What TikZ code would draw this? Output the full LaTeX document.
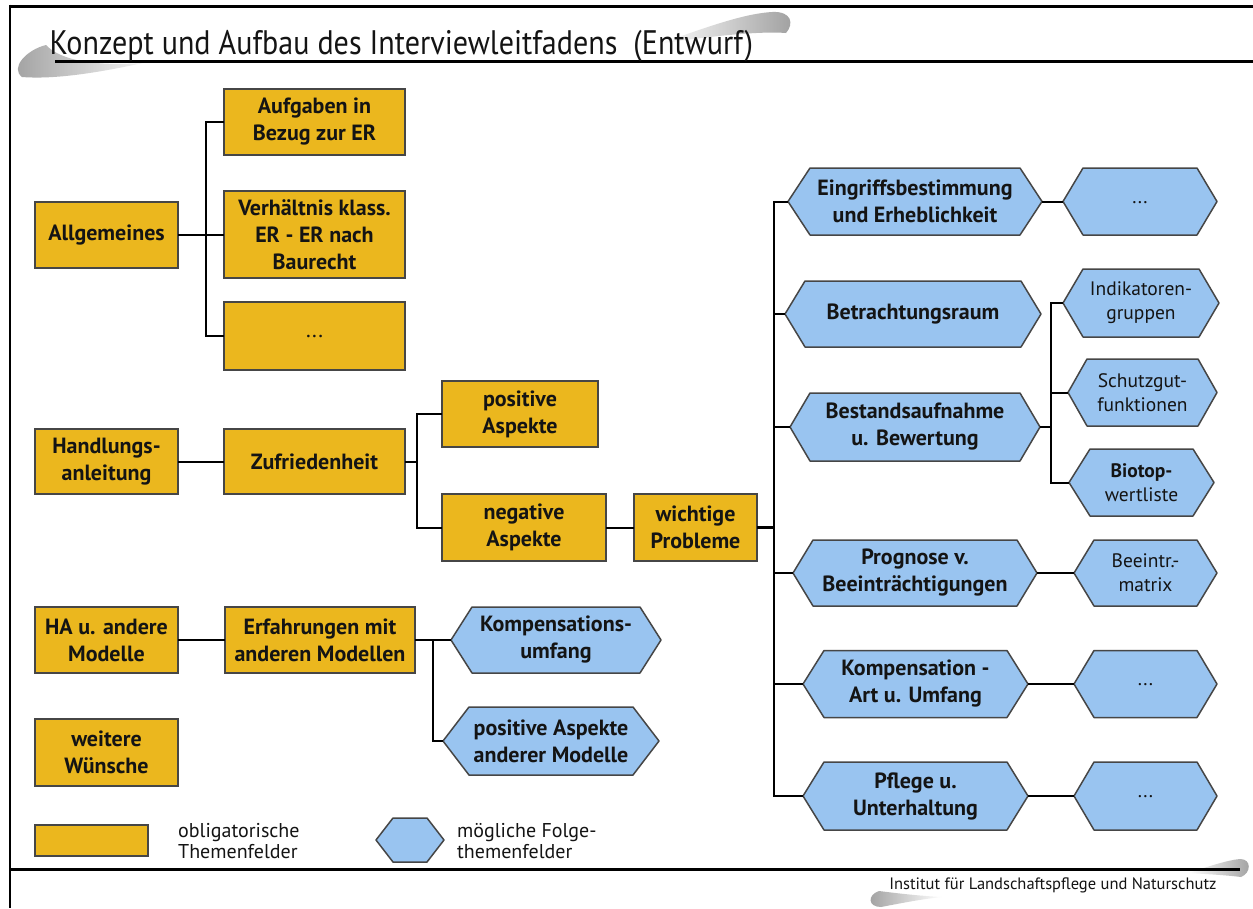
\documentclass[tikz,border=0pt]{standalone}
\usepackage{fontspec}
\setmainfont{PT Sans}
\newfontfamily\condfont[FakeStretch=0.885]{PT Sans}
\usetikzlibrary{calc}
\pgfdeclarelayer{background}
\pgfdeclarelayer{canvas}
\pgfsetlayers{canvas,background,main}
\definecolor{obl}{RGB}{235,183,30}
\definecolor{opt}{RGB}{153,196,240}
\definecolor{rim}{RGB}{70,70,70}
\definecolor{ink}{RGB}{20,20,20}

% blue hexagon drawn behind a named text node: #1 node name, #2 side inset
\newcommand\hexbody[2]{%
  \begin{pgfonlayer}{background}
    \filldraw[fill=opt, draw=rim, line width=1.5pt, line join=round]
      (#1.west) -- ([xshift=#2]#1.north west) -- ([xshift=-#2]#1.north east)
      -- (#1.east) -- ([xshift=-#2]#1.south east) -- ([xshift=#2]#1.south west) -- cycle;
  \end{pgfonlayer}}

% centred ellipsis for placeholder boxes
\newcommand\moredots{\raisebox{-4pt}{...}}

\tikzset{
  boxfont/.style={font=\fontsize{22}{27}\selectfont\bfseries},
  smallfont/.style={font=\fontsize{19.5}{24}\selectfont},
  legfont/.style={font=\fontsize{20}{21}\selectfont},
  oblbox/.style={draw=rim, line width=1.5pt, fill=obl, align=center, text=ink,
    inner sep=0pt, outer sep=0pt, boxfont},
  hexnode/.style={align=center, text=ink, inner sep=0pt, outer sep=0pt, boxfont},
  legtext/.style={anchor=north west, align=left, inner sep=0pt, text=ink, legfont},
  link/.style={line width=2pt, black},
  frameline/.style={line width=3pt, black},
}

\begin{document}
\begin{tikzpicture}[x=1pt, y=-1pt]
\useasboundingbox (0,0) rectangle (1253,908);
\begin{pgfonlayer}{canvas}
  \fill[white] (0,0) rectangle (1253,908);
\end{pgfonlayer}

% brush strokes of the slide frame
\shade[left color=white, right color=gray!75] (658,44) .. controls (700,30) and (740,14) .. (772,12)
  .. controls (792,11) and (794,24) .. (786,33) .. controls (760,31) and (710,36) .. (658,44) -- cycle;
\shade[left color=gray!75, right color=white!90!gray] (143,63) .. controls (100,66) and (62,62) .. (46,45)
  .. controls (26,50) and (10,68) .. (22,77) .. controls (60,80) and (110,70) .. (143,63) -- cycle;
\shade[left color=white, right color=gray!75] (1188,873) .. controls (1210,866) and (1228,860) .. (1240,859)
  .. controls (1252,859) and (1251,873) .. (1241,877) .. controls (1225,875) and (1205,874) .. (1188,873) -- cycle;
\shade[left color=gray!75, right color=white] (942,897) .. controls (920,896) and (895,893) .. (879,891)
  .. controls (867,895) and (868,907) .. (881,907) .. controls (902,903) and (922,899) .. (942,897) -- cycle;

% slide frame
\draw[frameline] (10,6) -- (1253,6);
\draw[line width=2.5pt] (10,4.5) -- (10,908);
\draw[frameline] (55,61) -- (1253,61);
\draw[frameline] (10,869) -- (1240,869);

\node[anchor=base west, font=\condfont\fontsize{34}{40}\selectfont, text=ink] (title) at (46,54)
  {Konzept und Aufbau des Interviewleitfadens~~(Entwurf)};
\node[anchor=base east, font=\fontsize{16.5}{18}\selectfont, text=ink] (inst) at (1220,889)
  {Institut für Landschaftspflege und Naturschutz};

% obligatory topics
\node[oblbox, minimum width=143, minimum height=66] (allg)  at (106.5,235)   {Allgemeines};
\node[oblbox, minimum width=181, minimum height=66] (aufg)  at (314.5,122)   {Aufgaben in\\Bezug zur ER};
\node[oblbox, minimum width=181, minimum height=87] (verh)  at (314.5,234.5) {Verhältnis klass.\\ER - ER nach\\Baurecht};
\node[oblbox, minimum width=181, minimum height=68, font=\fontsize{22}{27}\selectfont] (odots) at (314.5,336) {\moredots};
\node[oblbox, minimum width=143, minimum height=65] (handl) at (106.5,461.5) {Handlungs-\\anleitung};
\node[oblbox, minimum width=181, minimum height=65] (zufr)  at (314.5,461.5) {Zufriedenheit};
\node[oblbox, minimum width=156, minimum height=66] (posA)  at (520,414)     {positive\\Aspekte};
\node[oblbox, minimum width=164, minimum height=67] (negA)  at (524,527.5)   {negative\\Aspekte};
\node[oblbox, minimum width=123, minimum height=67] (wicht) at (695.5,527.5) {wichtige\\Probleme};
\node[oblbox, minimum width=143, minimum height=66] (ha)    at (106.5,640)   {HA u. andere\\Modelle};
\node[oblbox, minimum width=190, minimum height=66] (erf)   at (320,640)     {Erfahrungen mit\\anderen Modellen};
\node[oblbox, minimum width=143, minimum height=67] (weit)  at (106.5,752.5) {weitere\\Wünsche};

% possible follow-up topics
\node[hexnode, minimum width=210, minimum height=66] (kompU) at (556,640) {Kompensations-\\umfang};
\hexbody{kompU}{21}
\node[hexnode, minimum width=216, minimum height=68] (posAM) at (551,741) {positive Aspekte\\anderer Modelle};
\hexbody{posAM}{26}

\node[hexnode, minimum width=254, minimum height=67] (eingr) at (915,201.5) {Eingriffsbestimmung\\und Erheblichkeit};
\hexbody{eingr}{22}
\node[hexnode, minimum width=154, minimum height=67, smallfont] (edots) at (1140,201.5) {\moredots};
\hexbody{edots}{20}
\node[hexnode, minimum width=256, minimum height=66] (betr) at (913,314) {Betrachtungsraum};
\hexbody{betr}{20}
\node[hexnode, minimum width=250, minimum height=68] (best) at (915,427) {Bestandsaufnahme\\u. Bewertung};
\hexbody{best}{20}
\node[hexnode, minimum width=156, minimum height=68, smallfont] (indik) at (1141,303) {Indikatoren-\\gruppen};
\hexbody{indik}{20}
\node[hexnode, minimum width=149, minimum height=67, smallfont] (schutz) at (1142.5,392.5) {Schutzgut-\\funktionen};
\hexbody{schutz}{19}
\node[hexnode, minimum width=145, minimum height=67, smallfont] (biotop) at (1141.5,482.5) {\textbf{Biotop-}\\wertliste};
\hexbody{biotop}{21}
\node[hexnode, minimum width=244, minimum height=66] (progn) at (915,573) {Prognose v.\\Beeinträchtigungen};
\hexbody{progn}{20}
\node[hexnode, minimum width=143, minimum height=66, smallfont] (beein) at (1145.5,573) {Beeintr.-\\matrix};
\hexbody{beein}{20}
\node[hexnode, minimum width=225, minimum height=67] (komp) at (915.5,684) {Kompensation -\\Art u. Umfang};
\hexbody{komp}{21}
\node[hexnode, minimum width=143, minimum height=67, smallfont] (kdots) at (1145.5,684) {\moredots};
\hexbody{kdots}{20}
\node[hexnode, minimum width=225, minimum height=68] (pfl) at (915.5,796) {Pflege u.\\Unterhaltung};
\hexbody{pfl}{21}
\node[hexnode, minimum width=143, minimum height=68, smallfont] (pdots) at (1145.5,796) {\moredots};
\hexbody{pdots}{20}

% legend
\node[oblbox, minimum width=113, minimum height=31] (legO) at (91.5,840.5) {};
\node[legtext] (legOt) at (178,823) {obligatorische\\Themenfelder};
\node[hexnode, minimum width=68, minimum height=44] (legH) at (410,840) {};
\hexbody{legH}{17}
\node[legtext] (legHt) at (457,823) {mögliche Folge-\\themenfelder};

% connectors
\draw[link] (allg.east) -- (allg.east -| verh.west);
\draw[link] (aufg.west) -- ++(-18,0) |- (odots.west);
\draw[link] (handl.east) -- (zufr.west);
\draw[link] (zufr.east) -- ++(12,0);
\draw[link] (posA.west) -- ++(-25,0) |- (negA.west);
\draw[link] (negA.east) -- (wicht.west);
\coordinate (busT) at (774,201.5);
\coordinate (busB) at (774,796);
\draw[line width=3.5pt] (wicht.east) -- (wicht.east -| busT);
\draw[link] (eingr.west) -- (busT) -- (busB) -- (pfl.west);
\draw[link] (betr.west) -- (betr.west -| busT);
\draw[link] (best.west) -- (best.west -| busT);
\draw[link] (progn.west) -- (progn.west -| busT);
\draw[link] (komp.west) -- (komp.west -| busT);
\draw[link] (eingr.east) -- (edots.west);
\draw[link] (best.east) -- ++(11,0);
\draw[link] (indik.west) -- ++(-12,0) |- (biotop.west);
\draw[link] (schutz.west) -- ++(-17,0);
\draw[link] (progn.east) -- (beein.west);
\draw[link] (komp.east) -- (kdots.west);
\draw[link] (pfl.east) -- (pdots.west);
\draw[link] (ha.east) -- (erf.west);
\draw[link] (erf.east) -- (kompU.west);
\draw[link] (posAM.west) -- ++(-10,0) |- (kompU.west);
\end{tikzpicture}
\end{document}
